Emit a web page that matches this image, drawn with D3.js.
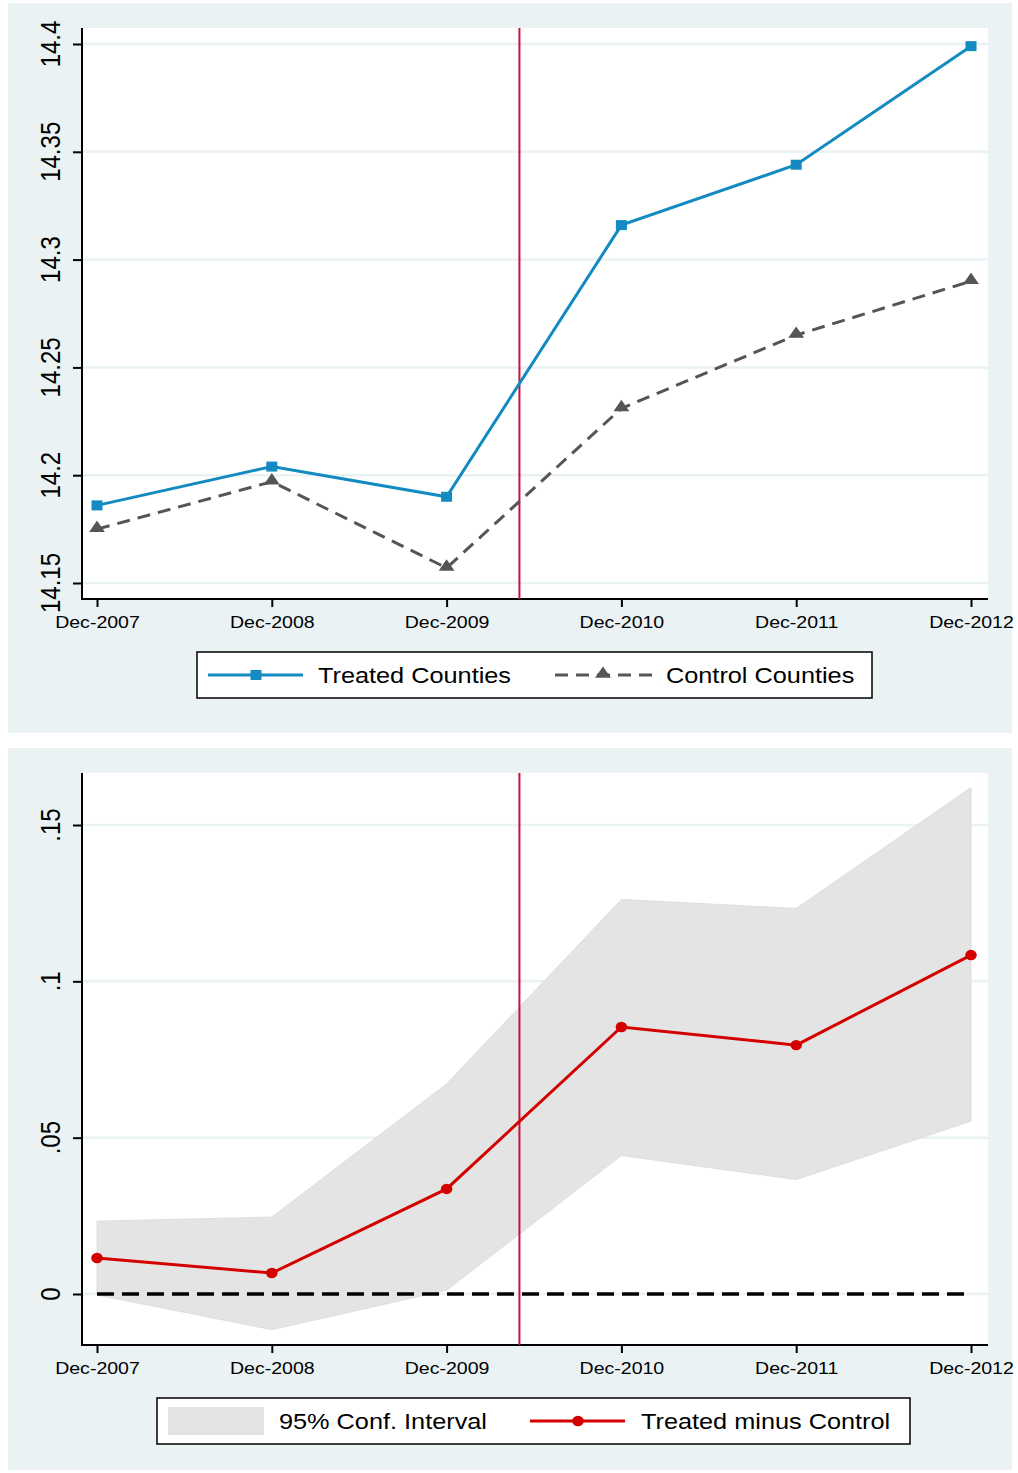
<!DOCTYPE html>
<html>
<head>
<meta charset="utf-8">
<script src="https://cdnjs.cloudflare.com/ajax/libs/d3/7.8.5/d3.min.js"></script>
<style>
  body { margin: 0; background: #fff; }
  text { font-family: "Liberation Sans", Arial, sans-serif; fill: #000; }
</style>
</head>
<body>
<div id="chart"></div>
<script>
// x positions: December of each year
const years = [2007, 2008, 2009, 2010, 2011, 2012];
const yearLabels = ["Dec-2007", "Dec-2008", "Dec-2009", "Dec-2010", "Dec-2011", "Dec-2012"];
const treatDate = 2009 + 5 / 12;

// top panel: log values
const treated = [14.186, 14.204, 14.190, 14.316, 14.344, 14.399];
const control = [14.175, 14.197, 14.157, 14.231, 14.265, 14.290];
const topTicks = [14.15, 14.2, 14.25, 14.3, 14.35, 14.4];
const topTickLabels = ["14.15", "14.2", "14.25", "14.3", "14.35", "14.4"];

// bottom panel: difference with 95% CI
const diff = [0.0115, 0.0067, 0.0336, 0.0854, 0.0796, 0.1084];
const ciUpper = [0.0233, 0.0246, 0.0672, 0.1262, 0.1233, 0.1620];
const ciLower = [-0.0003, -0.0114, 0.0012, 0.0443, 0.0366, 0.0553];
const botTicks = [0, 0.05, 0.1, 0.15];
const botTickLabels = ["0", ".05", ".1", ".15"];

const W = 1018, H = 1473;
const bg = "#eaf2f3";
const blue = "#138ac0", grey = "#555555", red = "#d40000", vred = "#c8103c", ciFill = "#e4e4e4";
const sx = 1.15; // horizontal text stretch

const svg = d3.select("#chart").append("svg")
  .attr("width", W).attr("height", H);

const x = d3.scaleLinear().domain([2007, 2012]).range([97, 971]);

function panel(top, bottom, plotTop, axisY, yScale, ticks, labels) {
  svg.append("rect").attr("x", 8).attr("y", top).attr("width", 1004).attr("height", bottom - top).attr("fill", bg);
  svg.append("rect").attr("x", 82).attr("y", plotTop).attr("width", 906).attr("height", axisY - plotTop).attr("fill", "#fff");
  const g = svg.append("g");
  // gridlines
  g.selectAll(".grid").data(ticks).enter().append("line")
    .attr("x1", 82).attr("x2", 988)
    .attr("y1", d => yScale(d)).attr("y2", d => yScale(d))
    .attr("stroke", bg).attr("stroke-width", 2.5);
  // y axis
  const yAxis = d3.axisLeft(yScale).tickValues(ticks).tickSize(9).tickFormat("");
  const ya = g.append("g").attr("transform", "translate(82,0)").call(yAxis);
  ya.select(".domain").remove();
  ya.selectAll("line").attr("stroke", "#000").attr("stroke-width", 2);
  g.append("line").attr("x1", 82).attr("x2", 82).attr("y1", plotTop).attr("y2", axisY + 1)
    .attr("stroke", "#000").attr("stroke-width", 2);
  g.selectAll(".ylab").data(ticks).enter().append("text")
    .attr("transform", (d, i) => `translate(60,${yScale(d)}) rotate(-90) scale(1,${sx})`)
    .attr("text-anchor", "middle").attr("font-size", 24)
    .text((d, i) => labels[i]);
  // x axis
  const xAxis = d3.axisBottom(x).tickValues(years).tickSize(8).tickFormat((d, i) => yearLabels[i]);
  const xa = g.append("g").attr("transform", `translate(0,${axisY})`).call(xAxis);
  xa.select(".domain").remove();
  xa.selectAll("line").attr("stroke", "#000").attr("stroke-width", 2);
  xa.selectAll("text").attr("y", 0).attr("dy", 0)
    .attr("transform", `translate(0,29) scale(${sx},1)`)
    .attr("font-size", 17).attr("font-family", "Liberation Sans, Arial, sans-serif").attr("fill", "#000");
  g.append("line").attr("x1", 81).attr("x2", 988).attr("y1", axisY).attr("y2", axisY)
    .attr("stroke", "#000").attr("stroke-width", 2);
  return g;
}

// ---------- top panel ----------
const yTop = d3.scaleLinear().domain([14.15, 14.4]).range([583, 44]);
panel(3, 733, 28, 599, yTop, topTicks, topTickLabels);

svg.append("line").attr("x1", x(treatDate)).attr("x2", x(treatDate)).attr("y1", 28).attr("y2", 599)
  .attr("stroke", vred).attr("stroke-width", 2);

const lineTop = d3.line().x((d, i) => x(years[i])).y(d => yTop(d));
svg.append("path").datum(control).attr("d", lineTop)
  .attr("fill", "none").attr("stroke", grey).attr("stroke-width", 3).attr("stroke-dasharray", "13,8");
svg.append("path").datum(treated).attr("d", lineTop)
  .attr("fill", "none").attr("stroke", blue).attr("stroke-width", 3);

const tri = d3.symbol().type(d3.symbolTriangle).size(75);
svg.selectAll(".tri").data(control).enter().append("path")
  .attr("d", tri)
  .attr("transform", (d, i) => `translate(${x(years[i])},${yTop(d) - 1}) scale(1.2,1)`)
  .attr("fill", grey);
svg.selectAll(".sq").data(treated).enter().append("rect")
  .attr("x", (d, i) => x(years[i]) - 5.5).attr("y", d => yTop(d) - 5)
  .attr("width", 11).attr("height", 10).attr("fill", blue);

// legend top
svg.append("rect").attr("x", 197).attr("y", 652).attr("width", 675).attr("height", 46)
  .attr("fill", "#fff").attr("stroke", "#000").attr("stroke-width", 1.5);
svg.append("line").attr("x1", 208).attr("x2", 303).attr("y1", 675).attr("y2", 675)
  .attr("stroke", blue).attr("stroke-width", 3);
svg.append("rect").attr("x", 250.5).attr("y", 670).attr("width", 11).attr("height", 10).attr("fill", blue);
svg.append("text").attr("transform", `translate(318,683) scale(${sx},1)`).attr("font-size", 22).text("Treated Counties");
svg.append("line").attr("x1", 555).attr("x2", 652).attr("y1", 675).attr("y2", 675)
  .attr("stroke", grey).attr("stroke-width", 3).attr("stroke-dasharray", "13,8");
svg.append("path").attr("d", tri).attr("transform", "translate(603,674) scale(1.2,1)").attr("fill", grey);
svg.append("text").attr("transform", `translate(666,683) scale(${sx},1)`).attr("font-size", 22).text("Control Counties");

// ---------- bottom panel ----------
const yBot = d3.scaleLinear().domain([0, 0.15]).range([1294, 825]);
panel(748, 1470, 773, 1345, yBot, botTicks, botTickLabels);

const area = d3.area().x((d, i) => x(years[i])).y0((d, i) => yBot(ciLower[i])).y1(d => yBot(d));
svg.append("path").datum(ciUpper).attr("d", area).attr("fill", ciFill)
  .attr("stroke", "#dedede").attr("stroke-width", 1);

svg.append("line").attr("x1", x(2007)).attr("x2", x(2012)).attr("y1", yBot(0)).attr("y2", yBot(0))
  .attr("stroke", "#000").attr("stroke-width", 3.5).attr("stroke-dasharray", "17,8");

svg.append("line").attr("x1", x(treatDate)).attr("x2", x(treatDate)).attr("y1", 773).attr("y2", 1345)
  .attr("stroke", vred).attr("stroke-width", 2);

const lineBot = d3.line().x((d, i) => x(years[i])).y(d => yBot(d));
svg.append("path").datum(diff).attr("d", lineBot)
  .attr("fill", "none").attr("stroke", red).attr("stroke-width", 3);
svg.selectAll(".dot").data(diff).enter().append("ellipse")
  .attr("cx", (d, i) => x(years[i])).attr("cy", d => yBot(d))
  .attr("rx", 5.8).attr("ry", 5.2).attr("fill", red);

// legend bottom
svg.append("rect").attr("x", 157).attr("y", 1398).attr("width", 753).attr("height", 46)
  .attr("fill", "#fff").attr("stroke", "#000").attr("stroke-width", 1.5);
svg.append("rect").attr("x", 168).attr("y", 1407).attr("width", 96).attr("height", 28).attr("fill", ciFill);
svg.append("text").attr("transform", `translate(279,1429) scale(${sx},1)`).attr("font-size", 22).text("95% Conf. Interval");
svg.append("line").attr("x1", 530).attr("x2", 625).attr("y1", 1421).attr("y2", 1421)
  .attr("stroke", red).attr("stroke-width", 3);
svg.append("ellipse").attr("cx", 578).attr("cy", 1421).attr("rx", 5.8).attr("ry", 5.2).attr("fill", red);
svg.append("text").attr("transform", `translate(641,1429) scale(${sx},1)`).attr("font-size", 22).text("Treated minus Control");
</script>
</body>
</html>
